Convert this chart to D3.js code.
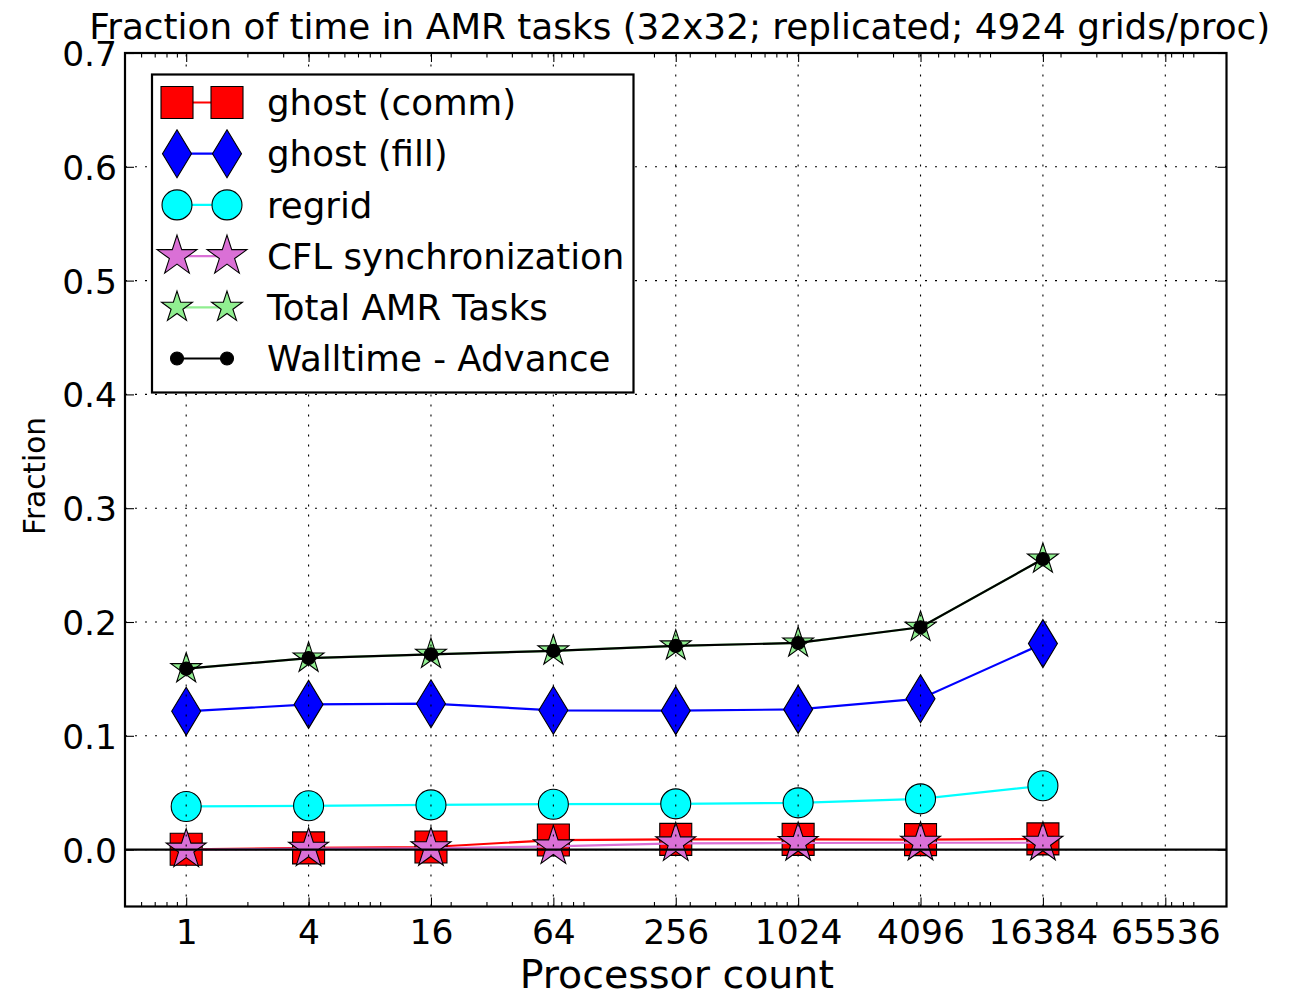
<!DOCTYPE html>
<html>
<head>
<meta charset="utf-8">
<script src="https://cdn.jsdelivr.net/npm/d3@7"></script>
<style>
  html, body { margin: 0; padding: 0; background: #fff; }
  svg { display: block; font-family: "DejaVu Sans", sans-serif; }
</style>
</head>
<body>
<svg id="chart" width="1291" height="994"></svg>
<script>
// Processor counts (x) and the fraction of walltime spent in each AMR task
const procs        = [1, 4, 16, 64, 256, 1024, 4096, 16384];
const ghostComm    = [0.0003, 0.0015, 0.0023, 0.0084, 0.0090, 0.0090, 0.0088, 0.0094];
const ghostFill    = [0.1215, 0.1276, 0.1282, 0.1224, 0.1221, 0.1232, 0.1326, 0.1810];
const regrid       = [0.0379, 0.0385, 0.0393, 0.0399, 0.0402, 0.0411, 0.0446, 0.0561];
const cflSync      = [0.0000, 0.0008, 0.0012, 0.0028, 0.0055, 0.0058, 0.0060, 0.0060];
const totalAMR     = [0.1590, 0.1683, 0.1716, 0.1746, 0.1790, 0.1816, 0.1954, 0.2553];
const walltimeAdv  = [0.1590, 0.1683, 0.1716, 0.1746, 0.1790, 0.1816, 0.1954, 0.2553];

const xTickValues  = [1, 4, 16, 64, 256, 1024, 4096, 16384, 65536];
const xTickLabels  = ["1", "4", "16", "64", "256", "1024", "4096", "16384", "65536"];
const yTickValues  = [0.0, 0.1, 0.2, 0.3, 0.4, 0.5, 0.6, 0.7];
const yTickLabels  = ["0.0", "0.1", "0.2", "0.3", "0.4", "0.5", "0.6", "0.7"];

const titleText  = "Fraction of time in AMR tasks (32x32; replicated; 4924 grids/proc)";
const xLabelText = "Processor count";
const yLabelText = "Fraction";

// Marker shapes: square, thin diamond, circle, star, dot
function starPath(R) {
  const r = R * 0.381966;
  const pts = [];
  for (let i = 0; i < 10; i++) {
    const a = -Math.PI / 2 + i * Math.PI / 5;
    const rad = i % 2 === 0 ? R : r;
    pts.push([rad * Math.cos(a), rad * Math.sin(a)]);
  }
  return "M" + pts.map(p => p[0].toFixed(2) + "," + p[1].toFixed(2)).join("L") + "Z";
}
const shapes = {
  square:  s => `M${-s},${-s}H${s}V${s}H${-s}Z`,
  diamond: () => "M0,-24L14.5,0L0,24L-14.5,0Z",
  circle:  r => `M${r},0A${r},${r} 0 1,1 ${-r},0A${r},${r} 0 1,1 ${r},0Z`,
  star:    R => starPath(R)
};

const series = [
  { name: "ghost (comm)",         values: ghostComm,   color: "#ff0000", fill: "#ff0000", path: shapes.square(16),  stroke: "#000" },
  { name: "ghost (fill)",         values: ghostFill,   color: "#0000ff", fill: "#0000ff", path: shapes.diamond(),   stroke: "#000" },
  { name: "regrid",               values: regrid,      color: "#00ffff", fill: "#00ffff", path: shapes.circle(15),  stroke: "#000" },
  { name: "CFL synchronization",  values: cflSync,     color: "#da70d6", fill: "#da70d6", path: shapes.star(21),    stroke: "#000" },
  { name: "Total AMR Tasks",      values: totalAMR,    color: "#90ee90", fill: "#90ee90", path: shapes.star(16.2),  stroke: "#000" },
  { name: "Walltime - Advance",   values: walltimeAdv, color: "#000000", fill: "#000000", path: shapes.circle(6.5), stroke: "#000" }
];

const L = 125, R = 1226.5, T = 53, B = 906.5;
const svg = d3.select("#chart");

const x = d3.scaleLog().base(2).domain([0.5, 131072]).range([L, R]);
const y = d3.scaleLinear().domain([-0.05, 0.7]).range([B, T]);

svg.append("defs").append("clipPath").attr("id", "plotclip")
  .append("rect").attr("x", L).attr("y", T).attr("width", R - L).attr("height", B - T);

// Data series: line then markers, each series over the previous one
const plot = svg.append("g").attr("clip-path", "url(#plotclip)");
const line = d3.line().x((d, i) => x(procs[i])).y(d => y(d));
series.forEach(s => {
  const g = plot.append("g");
  g.append("path").datum(s.values).attr("d", line)
    .attr("fill", "none").attr("stroke", s.color).attr("stroke-width", 2.2);
  g.selectAll("path.m").data(s.values).join("path").attr("class", "m")
    .attr("d", s.path)
    .attr("transform", (d, i) => `translate(${x(procs[i])},${y(d)})`)
    .attr("fill", s.fill).attr("stroke", s.stroke).attr("stroke-width", 1.1);
});

// Zero reference line
plot.append("line").attr("x1", L).attr("x2", R).attr("y1", y(0)).attr("y2", y(0))
  .attr("stroke", "#000").attr("stroke-width", 2.2);

// Dotted grid
const grid = svg.append("g").attr("stroke", "#000").attr("stroke-width", 1.1).attr("stroke-dasharray", "2,8");
xTickValues.forEach(v => grid.append("line").attr("x1", x(v)).attr("x2", x(v)).attr("y1", B).attr("y2", T));
yTickValues.forEach(v => grid.append("line").attr("x1", L).attr("x2", R).attr("y1", y(v)).attr("y2", y(v)));

// Axes with inward ticks on all four sides
const minorX = [];
for (let k = -1; k <= 5; k++) for (let d = 2; d <= 9; d++) {
  const v = d * Math.pow(10, k);
  if (v > 0.5 && v < 131072) minorX.push(v);
}
const axX = (gen, y0) => svg.append("g").attr("transform", `translate(0,${y0})`).call(gen);
const styleAxis = g => { g.select(".domain").remove(); g.selectAll("line").attr("stroke", "#000").attr("stroke-width", 1.1); };

const bottomMajor = axX(d3.axisBottom(x).tickValues(xTickValues).tickSize(-9).tickPadding(14)
  .tickFormat((d, i) => xTickLabels[i]), B);
styleAxis(bottomMajor);
bottomMajor.selectAll("text").attr("font-size", 34.5).attr("font-family", "DejaVu Sans").attr("fill", "#000")
  .attr("dy", null).attr("y", 37);
styleAxis(axX(d3.axisBottom(x).tickValues(minorX).tickSize(-4.5).tickFormat(""), B));
styleAxis(axX(d3.axisTop(x).tickValues(xTickValues).tickSize(-9).tickFormat(""), T));
styleAxis(axX(d3.axisTop(x).tickValues(minorX).tickSize(-4.5).tickFormat(""), T));

const leftAxis = svg.append("g").attr("transform", `translate(${L},0)`)
  .call(d3.axisLeft(y).tickValues(yTickValues).tickSize(-9).tickPadding(8).tickFormat((d, i) => yTickLabels[i]));
styleAxis(leftAxis);
leftAxis.selectAll("text").attr("font-size", 34.5).attr("font-family", "DejaVu Sans").attr("fill", "#000")
  .attr("dy", "0.36em").attr("x", -8);
styleAxis(svg.append("g").attr("transform", `translate(${R},0)`)
  .call(d3.axisRight(y).tickValues(yTickValues).tickSize(-9).tickFormat("")));

// Frame
svg.append("rect").attr("x", L).attr("y", T).attr("width", R - L).attr("height", B - T)
  .attr("fill", "none").attr("stroke", "#000").attr("stroke-width", 2.2);

// Titles
svg.append("text").attr("x", (L + R) / 2 + 4).attr("y", 39).attr("text-anchor", "middle")
  .attr("font-size", 35.8).text(titleText);
svg.append("text").attr("x", (L + R) / 2 + 1).attr("y", 988).attr("text-anchor", "middle")
  .attr("font-size", 39.5).text(xLabelText);
svg.append("text").attr("transform", "translate(45,476) rotate(-90)").attr("text-anchor", "middle")
  .attr("font-size", 29.5).text(yLabelText);

// Legend
const lg = svg.append("g");
lg.append("rect").attr("x", 152).attr("y", 74.5).attr("width", 481.5).attr("height", 318)
  .attr("fill", "#fff").attr("stroke", "#000").attr("stroke-width", 2.2);
series.forEach((s, i) => {
  const cy = 102.5 + i * 51.2;
  lg.append("line").attr("x1", 177).attr("x2", 227).attr("y1", cy).attr("y2", cy)
    .attr("stroke", s.color).attr("stroke-width", 2.2);
  [177, 227].forEach(cx => lg.append("path").attr("d", s.path)
    .attr("transform", `translate(${cx},${cy})`)
    .attr("fill", s.fill).attr("stroke", s.stroke).attr("stroke-width", 1.1));
  lg.append("text").attr("x", 267).attr("y", cy + 12.6).attr("font-size", 35.6).text(s.name);
});
</script>
</body>
</html>
